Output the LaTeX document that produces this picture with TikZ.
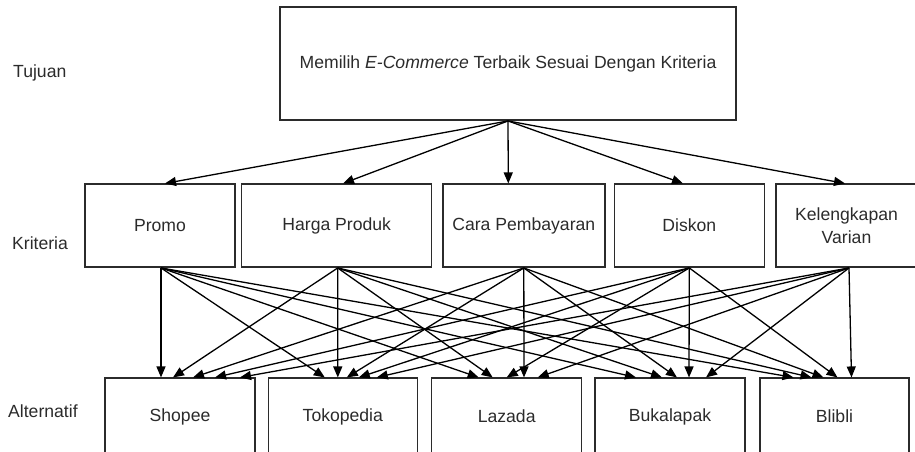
\documentclass[tikz,border=0pt]{standalone}
\usepackage{fontspec}
\setmainfont{Liberation Sans}
\usetikzlibrary{arrows.meta}
\definecolor{ink}{HTML}{2B2B2B}
\begin{document}
\begin{tikzpicture}[x=1pt,y=-1pt,
  box/.style={draw=ink, line width=1.5pt, inner sep=0pt, text=ink, font=\fontsize{17.6}{22.5}\selectfont, align=center},
  lbl/.style={inner sep=0pt, anchor=west, text=ink, font=\fontsize{17.6}{22}\selectfont},
  arr/.style={draw=black, line width=1.3pt, -{Triangle[length=11pt,width=9pt]}}]
\useasboundingbox (0,0) rectangle (915,452);
\clip (0,0) rectangle (915,452);
% goal
\node[box, minimum width=456pt, minimum height=113pt] (goal) at (508,63.7) {Memilih \textit{E-Commerce} Terbaik Sesuai Dengan Kriteria};
% criteria
\node[box, minimum width=150pt, minimum height=83pt] (promo) at (160,225.7) {Promo};
\node[box, minimum width=190pt, minimum height=83pt] (harga) at (336.7,225.7) {Harga Produk};
\node[box, minimum width=162pt, minimum height=83pt] (cara) at (523.8,225.7) {Cara Pembayaran};
\node[box, minimum width=150pt, minimum height=83pt] (diskon) at (689.3,225.7) {Diskon};
\node[box, minimum width=141pt, minimum height=83pt] (kel) at (846.5,225.7) {Kelengkapan\\Varian};
% alternatives
\node[box, minimum width=150pt, minimum height=77pt] (shopee) at (180,416.7) {Shopee};
\node[box, minimum width=149pt, minimum height=77pt] (toko) at (342.8,416.7) {Tokopedia};
\node[box, minimum width=150pt, minimum height=77pt] (lazada) at (506.7,416.7) {Lazada};
\node[box, minimum width=150pt, minimum height=77pt] (buka) at (670,416.7) {Bukalapak};
\node[box, minimum width=149pt, minimum height=77pt] (blibli) at (834.5,416.7) {Blibli};
% side labels
\node[lbl] (ltujuan) at (13,73) {Tujuan};
\node[lbl] (lkrit) at (12,243.3) {Kriteria};
\node[lbl] (lalt) at (8,411.7) {Alternatif};
% goal -> criteria
\draw[arr] (goal.south) -- ([xshift=5pt]promo.north);
\draw[arr] (goal.south) -- ([xshift=6.3pt]harga.north);
\draw[arr] (goal.south) -- ([xshift=-15.5pt]cara.north);
\draw[arr] (goal.south) -- ([xshift=-6.3pt]diskon.north);
\draw[arr] (goal.south) -- ([xshift=-1.5pt]kel.north);
% sources
\coordinate (sp) at ([xshift=1pt]promo.south);
\coordinate (sh) at ([xshift=1pt]harga.south);
\coordinate (sc) at ([xshift=0pt]cara.south);
\coordinate (sd) at ([xshift=0pt]diskon.south);
\coordinate (sk) at ([xshift=2.5pt]kel.south);
% criteria -> alternatives
\foreach \s/\t/\o in {sp/shopee/-19, sh/shopee/-7, sc/shopee/13, sd/shopee/35, sk/shopee/60,
  sp/toko/-18, sh/toko/-5, sc/toko/4, sd/toko/16, sk/toko/34,
  sp/lazada/-28, sh/lazada/-14, sd/lazada/0, sc/lazada/17.3, sk/lazada/31,
  sp/buka/-34, sh/buka/-8, sc/buka/7, sd/buka/19, sk/buka/36,
  sp/blibli/-41, sh/blibli/-23, sc/blibli/-11, sd/blibli/3, sk/blibli/17}
  \draw[arr] (\s) -- ([xshift=\o pt]\t.north);
\end{tikzpicture}
\end{document}
